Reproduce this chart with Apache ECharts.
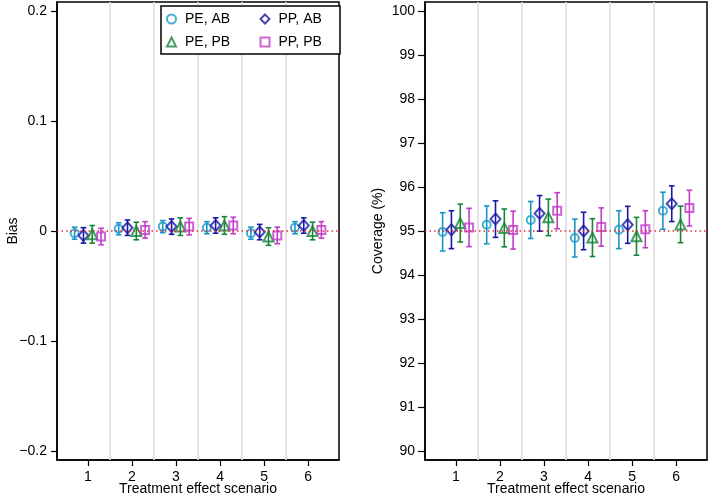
<!DOCTYPE html>
<html>
<head>
<meta charset="utf-8">
<script src="https://cdn.jsdelivr.net/npm/echarts@6/dist/echarts.min.js"></script>
<style>html,body{margin:0;padding:0;background:#fff;}#c{width:712px;height:496px;}</style>
</head>
<body>
<div id="c"></div>
<script>
// ---- data ----
const scenarios = [1, 2, 3, 4, 5, 6];
const methodNames = ['PE, AB', 'PP, AB', 'PE, PB', 'PP, PB'];
const biasTicks = [-0.2, -0.1, 0, 0.1, 0.2];
const covTicks = [90, 91, 92, 93, 94, 95, 96, 97, 98, 99, 100];
const biasRef = 0;
const covRef = 95;

// Bias estimates (centre) and half-width of interval
const biasPEAB = [-0.002, 0.002, 0.004, 0.003, -0.002, 0.003];
const biasPPAB = [-0.004, 0.003, 0.004, 0.005, -0.001, 0.005];
const biasPEPB = [-0.003, 0.000, 0.004, 0.005, -0.005, 0.000];
const biasPPPB = [-0.005, 0.001, 0.004, 0.005, -0.004, 0.001];
const biasHalfPEAB = [0.0055, 0.0055, 0.0055, 0.0055, 0.0055, 0.0055];
const biasHalfPPAB = [0.007, 0.007, 0.007, 0.007, 0.007, 0.007];
const biasHalfPEPB = [0.008, 0.008, 0.008, 0.008, 0.008, 0.008];
const biasHalfPPPB = [0.0075, 0.0075, 0.0075, 0.0075, 0.0075, 0.0075];

// Coverage (%) estimates and half-width of interval
const covPEAB = [94.98, 95.14, 95.25, 94.84, 95.03, 95.46];
const covPPAB = [95.03, 95.27, 95.40, 95.00, 95.14, 95.62];
const covPEPB = [95.18, 95.07, 95.31, 94.85, 94.88, 95.15];
const covPPPB = [95.08, 95.02, 95.46, 95.09, 95.04, 95.52];
const covHalfPEAB = [0.435, 0.43, 0.42, 0.43, 0.43, 0.42];
const covHalfPPAB = [0.43, 0.415, 0.405, 0.425, 0.42, 0.405];
const covHalfPEPB = [0.43, 0.43, 0.415, 0.43, 0.43, 0.415];
const covHalfPPPB = [0.435, 0.43, 0.41, 0.435, 0.42, 0.405];

// ---- styling ----
const colors = ['#1a96c4', '#1818a6', '#16853a', '#c23cc9'];
const symbols = ['circle', 'diamond', 'triangle', 'rect'];
const symSizes = [8, [10, 11], 10, 8];
const dodge = [-0.3, -0.1, 0.1, 0.3];
const FONT = 'Liberation Sans, Arial, Helvetica, sans-serif';

const biasVals = [biasPEAB, biasPPAB, biasPEPB, biasPPPB];
const biasHalf = [biasHalfPEAB, biasHalfPPAB, biasHalfPEPB, biasHalfPPPB];
const covVals = [covPEAB, covPPAB, covPEPB, covPPPB];
const covHalf = [covHalfPEAB, covHalfPPAB, covHalfPEPB, covHalfPPPB];

const chart = echarts.init(document.getElementById('c'), null, {renderer: 'canvas'});

function errRender(color) {
  return function (params, api) {
    const x = api.value(0), lo = api.value(1), hi = api.value(2);
    const a = api.coord([x, lo]), b = api.coord([x, hi]);
    const w = 2.8;
    const st = {stroke: color, lineWidth: 1.6};
    return {type: 'group', children: [
      {type: 'line', shape: {x1: a[0], y1: a[1], x2: b[0], y2: b[1]}, style: st},
      {type: 'line', shape: {x1: a[0] - w, y1: a[1], x2: a[0] + w, y2: a[1]}, style: st},
      {type: 'line', shape: {x1: b[0] - w, y1: b[1], x2: b[0] + w, y2: b[1]}, style: st}
    ]};
  };
}

const separators = scenarios.slice(1).map(s => ({xAxis: s - 0.5}));

function markLines(refVal) {
  return {
    symbol: 'none', silent: true, animation: false,
    label: {show: false},
    lineStyle: {color: '#dcdcdc', width: 1.6, type: 'solid'},
    emphasis: {disabled: true},
    data: separators.concat([{yAxis: refVal, lineStyle: {color: '#e0303a', width: 1.5, type: [1.5, 3]}}])
  };
}

const series = [];
[[biasVals, biasHalf, 0, biasRef], [covVals, covHalf, 1, covRef]].forEach(([vals, half, gi, ref]) => {
  methodNames.forEach((name, m) => {
    series.push({
      name: name, type: 'scatter', xAxisIndex: gi, yAxisIndex: gi,
      symbol: symbols[m], symbolSize: symSizes[m], z: 4,
      itemStyle: {color: 'rgba(255,255,255,0)', borderColor: colors[m], borderWidth: 2},
      emphasis: {disabled: true},
      data: scenarios.map((s, i) => [s + dodge[m], vals[m][i]]),
      markLine: m === 0 ? markLines(ref) : undefined
    });
  });
});
[[biasVals, biasHalf, 0], [covVals, covHalf, 1]].forEach(([vals, half, gi]) => {
  methodNames.forEach((name, m) => {
    series.push({
      name: name, type: 'custom', xAxisIndex: gi, yAxisIndex: gi, z: 3,
      renderItem: errRender(colors[m]),
      encode: {x: 0, y: [1, 2]},
      data: scenarios.map((s, i) => [s + dodge[m], vals[m][i] - half[m][i], vals[m][i] + half[m][i]])
    });
  });
});

function xAxis(gi) {
  return {
    gridIndex: gi, type: 'value', min: 0.3, max: 6.7,
    name: 'Treatment effect scenario', nameLocation: 'middle', nameGap: 22, nameMoveOverlap: false,
    nameTextStyle: {color: '#000', fontSize: 14, fontFamily: FONT},
    axisLine: {show: true, onZero: false, lineStyle: {color: '#000', width: 1.5}},
    axisTick: {show: true, length: 6, lineStyle: {color: '#000', width: 1.2}, customValues: scenarios},
    axisLabel: {customValues: scenarios, color: '#000', fontSize: 14, fontFamily: FONT, margin: 10},
    splitLine: {show: false}
  };
}

const gridBase = {top: 2, width: 282, height: 458, show: true, borderColor: '#000', borderWidth: 1.5,
  backgroundColor: 'transparent', containLabel: false, outerBoundsMode: 'none'};

const option = {
  animation: false,
  backgroundColor: '#fff',
  textStyle: {fontFamily: FONT},
  grid: [
    Object.assign({left: 57}, gridBase),
    Object.assign({left: 425}, gridBase)
  ],
  legend: [
    {
      data: [methodNames[0], methodNames[2]], orient: 'vertical', left: 161, top: 6, z: 20,
      padding: [4.5, 99, 3.5, 5], itemGap: 6, itemWidth: 9, itemHeight: 9,
      borderColor: '#000', borderWidth: 1.5, backgroundColor: '#fff',
      textStyle: {color: '#000', fontSize: 14, fontFamily: FONT, width: 56, lineHeight: 17, padding: [0, 0, 0, 4]},
      selectedMode: false
    },
    {
      data: [methodNames[1], methodNames[3]], orient: 'vertical', left: 254.5, top: 6, z: 21,
      padding: [4.5, 5, 3.5, 5], itemGap: 6, itemWidth: 9, itemHeight: 9,
      textStyle: {color: '#000', fontSize: 14, fontFamily: FONT, width: 56, lineHeight: 17, padding: [0, 0, 0, 4]},
      selectedMode: false
    }
  ],
  xAxis: [xAxis(0), xAxis(1)],
  yAxis: [
    {
      gridIndex: 0, type: 'value', min: -0.208, max: 0.208,
      name: 'Bias', nameLocation: 'middle', nameGap: 37, nameMoveOverlap: false,
      nameTextStyle: {color: '#000', fontSize: 14, fontFamily: FONT},
      axisLine: {show: true, onZero: false, lineStyle: {color: '#000', width: 1.5}},
      axisTick: {show: true, length: 6, lineStyle: {color: '#000', width: 1.2}, customValues: biasTicks},
      axisLabel: {customValues: biasTicks, color: '#000', fontSize: 14, fontFamily: FONT, margin: 10,
        formatter: v => (Math.abs(v) < 1e-9 ? '0' : String(+v.toFixed(2))).replace('-', '\u2212')},
      splitLine: {show: false}
    },
    {
      gridIndex: 1, type: 'value', min: 89.8, max: 100.2,
      name: 'Coverage (%)', nameLocation: 'middle', nameGap: 40, nameMoveOverlap: false,
      nameTextStyle: {color: '#000', fontSize: 14, fontFamily: FONT},
      axisLine: {show: true, onZero: false, lineStyle: {color: '#000', width: 1.5}},
      axisTick: {show: true, length: 7, lineStyle: {color: '#000', width: 1.2}, customValues: covTicks},
      axisLabel: {customValues: covTicks, color: '#000', fontSize: 14, fontFamily: FONT, margin: 10},
      splitLine: {show: false}
    }
  ],
  series: series
};
chart.setOption(option);
</script>
</body>
</html>
